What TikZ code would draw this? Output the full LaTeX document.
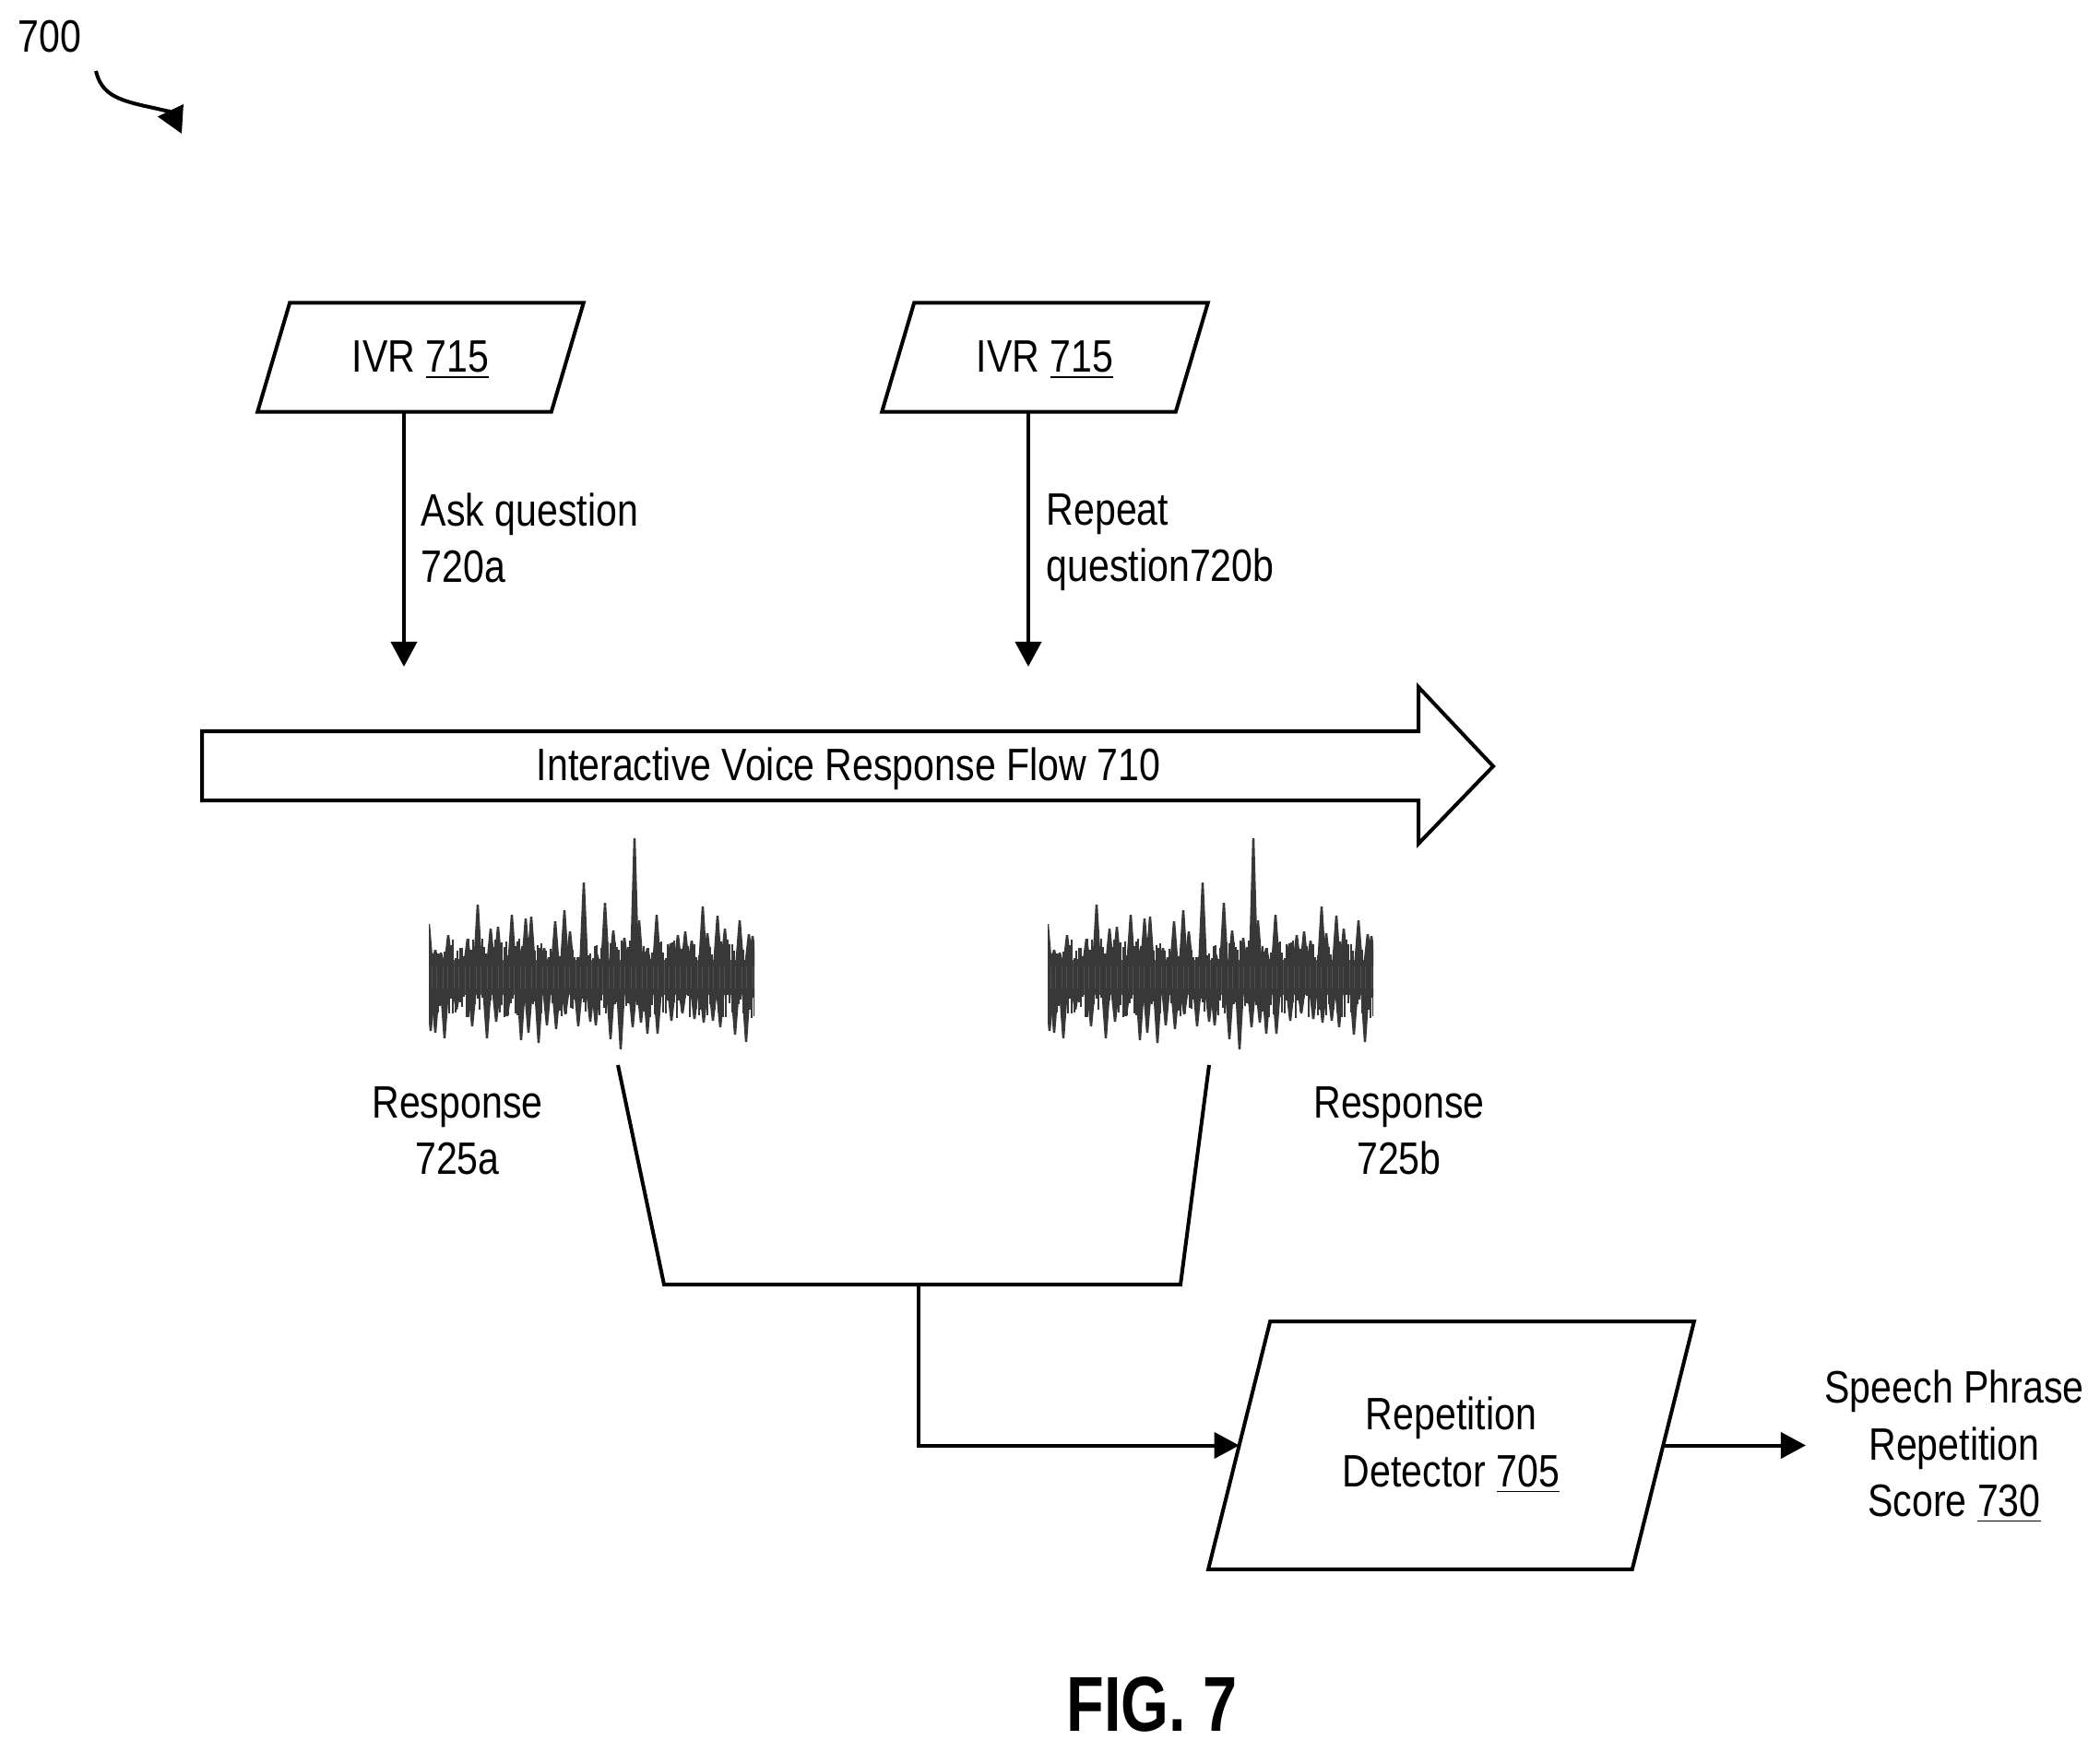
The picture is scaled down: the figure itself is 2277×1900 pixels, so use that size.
\documentclass[tikz,border=0pt]{standalone}
\usepackage{fontspec}
\setmainfont[FakeStretch=0.835]{Liberation Sans}
\newfontfamily\figfont[FakeStretch=0.79]{Liberation Sans}
\usetikzlibrary{arrows.meta}
\usetikzlibrary{calc}
\definecolor{wv}{HTML}{383838}
\newcommand{\slantbox}[2]{\draw[line] ($(#1.south west)+(-#2,0)$) -- ($(#1.south east)+(-#2,0)$) -- ($(#1.north east)+(#2,0)$) -- ($(#1.north west)+(#2,0)$) -- cycle;}
\tikzset{
  line/.style={draw=black, line width=0.04cm},
  flowto/.style={line, -{Triangle[length=0.27cm,width=0.28cm]}},
  label/.style={font=\fontsize{14}{17.4}\selectfont, align=center, inner sep=0pt},
  ivrbox/.style={label, minimum width=3.17cm, minimum height=1.17cm},
  voice/.pic={
    \pgfmathsetseed{715}
    \clip (0,-160) rectangle (353,90);
    \fill[wv!88!white] (0,-19) rectangle (353,19);
    \foreach \x in {0,2.4,...,353}
      \draw[wv, line width=0.02cm] (\x,{-18-rnd*24}) -- (\x,{18+rnd*26});
    \foreach \x/\y in {0/-58,7/-30,13/-27,21/-46,32/-20,42/-42,53/-79,67/-53,75/-55,90/-68,98/-32,105/-64,111/-66,125/-32,137/-61,147/-73,153/-50,168/-103,182/-26,191/-81,200/-51,212/-43,223/-151,228/-62,237/-32,247/-68,262/-37,270/-46,278/-50,285/-40,297/-77,302/-48,313/-67,321/-53,337/-62,347/-47,351/-45}
      \fill[wv] (\x-5,-12) -- (\x-1.2,\y) -- (\x+1.2,\y) -- (\x+5,-12) -- cycle;
    \foreach \x/\y in {2/58,7/60,17/66,30/35,47/53,63/66,73/48,85/42,100/68,108/60,119/71,128/52,138/56,148/40,162/53,175/48,181/52,197/67,208/78,221/54,230/49,237/61,248/61,263/47,275/39,288/45,298/49,308/47,316/54,332/62,344/70,351/22}
      \fill[wv] (\x-5,12) -- (\x-1.2,\y) -- (\x+1.2,\y) -- (\x+5,12) -- cycle;
  }
}

\begin{document}
\begin{tikzpicture}[x=0.01cm,y=-0.01cm]
  \useasboundingbox (0,0) rectangle (2277,1900);

  % reference numeral
  \node[label] (num) at (54,40) {700};
  \coordinate (curlya) at (104,77);
  \coordinate (curlyb) at (157,115);
  \coordinate (curlyc) at (197,145);
  \draw[line, -{Triangle[length=0.28cm,width=0.3cm]}] (curlya) .. controls (110,102) and (127,108) .. (curlyb) .. controls (172,118) and (186,122) .. (curlyc);

  % questions
  \node[ivrbox] (ivra) at (456,387.5) {\raisebox{-0.03cm}[\height][\depth]{IVR \underline{715}}};
  \node[ivrbox] (ivrb) at (1133,387.5) {\raisebox{-0.03cm}[\height][\depth]{IVR \underline{715}}};
  \slantbox{ivra}{17.5}
  \slantbox{ivrb}{17.5}
  \coordinate (aska) at (438,723);
  \coordinate (askb) at (1115,723);
  \draw[flowto] (aska |- ivra.south) -- (aska);
  \draw[flowto] (askb |- ivrb.south) -- (askb);
  \node[label, align=left, anchor=west] (quest) at (456,583) {Ask question\\720a};
  \node[label, align=left, anchor=west] (again) at (1134,588) {Repeat\\question720b};

  % flow arrow
  \draw[line] (219,793) -- (1538,793) -- (1538,745) -- (1619,831) -- (1538,915) -- (1538,868) -- (219,868) -- cycle;
  \node[label] (flow) at (920,834) {Interactive Voice Response Flow 710};

  % responses
  \pic at (465,1060) {voice};
  \pic at (1136,1060) {voice};
  \node[label] (respa) at (496,1226) {Response\\725a};
  \node[label] (respb) at (1517,1226) {Response\\725b};

  % joined into the detector
  \coordinate (joina) at (670,1155);
  \coordinate (joinb) at (720,1393);
  \coordinate (joinc) at (1280,1393);
  \coordinate (joind) at (1311,1155);
  \coordinate (stem) at (996,1393);
  \draw[line] (joina) -- (joinb) -- (joinc) -- (joind);
  \node[label, minimum width=4.58cm, minimum height=2.67cm] (detector) at (1573.5,1567.5) {Repetition\\Detector \underline{705}};
  \slantbox{detector}{33.5}
  \draw[flowto] (stem) |- (detector.west);

  \coordinate (scoreto) at (1958,1567.5);
  \draw[flowto] (detector.east) -- (scoreto);
  \node[label] (score) at (2119,1569) {Speech Phrase\\Repetition\\Score \underline{730}};

  \node[font=\figfont\bfseries\fontsize{24}{28}\selectfont, inner sep=0pt] (fig) at (1249,1848) {FIG. 7};
\end{tikzpicture}
\end{document}
